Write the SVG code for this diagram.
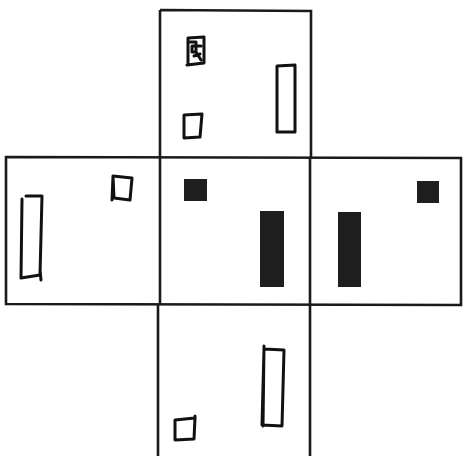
<svg xmlns="http://www.w3.org/2000/svg" width="463" height="456" viewBox="0 0 463 456">
<style>
.frame{fill:none;stroke:#1a1a1a;stroke-width:2.6}
.ink{fill:none;stroke:#111;stroke-width:3;stroke-linejoin:round;stroke-linecap:round}
.solid{fill:#1e1e1e}
</style>
<rect width="463" height="456" fill="#fff"/>
<g id="connectors">
<path class="frame" d="M160,10 L311,11 L311,157 M160,10 L160,157"/>
<path class="frame" d="M6,157 L461,158 L461,305 L6,304 Z"/>
<path class="frame" d="M160,157 L160,305 M310,157 L310,305"/>
<path class="frame" d="M158,305 L158,456 M310,305 L310,456"/>
</g>
<g id="face-top">
<path class="ink" d="M188,38 L204,37 L204,63 L187,65 M188,38 L188,63 M190,42 L196,42 L196,52 L192,52 L192,46 L201,46 M196,52 L201,60 M194,56 L200,54"/>
<path class="ink" d="M277,66 L295,65 L295,132 L277,132 Z"/>
<path class="ink" d="M184,115 L202,114 L200,137 L184,138 Z"/>
</g>
<g id="face-left">
<path class="ink" d="M22,199 L21,278 L40,275 L42,196 L26,196 M40,270 L41,280"/>
<path class="ink" d="M113,176 L132,178 L130,200 L114,198 Z M113,176 L112,200"/>
</g>
<g id="face-front">
<rect class="solid" x="184" y="179" width="23" height="22"/>
<rect class="solid" x="260" y="211" width="24" height="76"/>
</g>
<g id="face-right">
<rect class="solid" x="417" y="181" width="22" height="22"/>
<rect class="solid" x="338" y="212" width="23" height="75"/>
</g>
<g id="face-bottom">
<path class="ink" d="M264,349 L284,350 L282,426 L262,425 Z M264,346 L263,426"/>
<path class="ink" d="M175,420 L195,418 L194,439 L175,440 Z M195,416 L195,420"/>
</g>
</svg>
